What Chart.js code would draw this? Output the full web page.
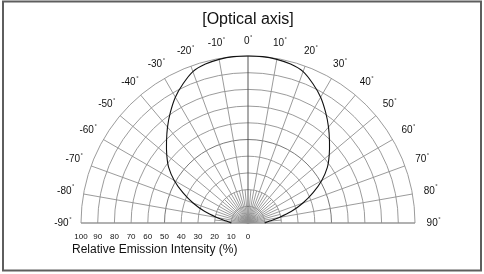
<!DOCTYPE html>
<html>
<head>
<meta charset="utf-8">
<script src="https://cdn.jsdelivr.net/npm/chart.js@4.4.1/dist/chart.umd.min.js"></script>
<style>
  html, body { margin: 0; padding: 0; background: #fff; }
  canvas { display: block; }
</style>
</head>
<body>
<canvas id="chartPolar" width="484" height="274"></canvas>
<script>
// angulos (graus) e intensidade relativa (%)
const angles = [-90, -85, -80, -75, -70, -65, -60, -55, -50, -45, -40, -35, -30, -25, -20, -15, -10, -5,
  0, 5, 10, 15, 20, 25, 30, 35, 40, 45, 50, 55, 60, 65, 70, 75, 80, 85, 90];
const intensity = [10, 13, 19, 27, 35, 43, 51, 58, 63.5, 69, 75, 81, 87, 92, 96.5, 98.5, 99.5, 100,
  100, 100, 99.5, 98.5, 96.5, 92, 87, 81, 75, 69, 63.5, 58, 51, 43, 35, 27, 19, 13, 10];

const angleTicks = [-90, -80, -70, -60, -50, -40, -30, -20, -10, 0, 10, 20, 30, 40, 50, 60, 70, 80, 90];
const radialTicks = [100, 90, 80, 70, 60, 50, 40, 30, 20, 10, 0];
const rings = [10, 20, 30, 40, 50, 60, 70, 80, 90, 100];

const titleText = "[Optical axis]";
const axisText = "Relative Emission Intensity (%)";

// polar -> cartesiano (0 graus = vertical)
const points = angles.map((a, i) => {
  const t = a * Math.PI / 180;
  return { x: intensity[i] * Math.sin(t), y: intensity[i] * Math.cos(t) };
});

const polarGrid = {
  id: "polarGrid",
  beforeDatasetsDraw(chart) {
    const ctx = chart.ctx;
    const sx = chart.scales.x, sy = chart.scales.y;
    const cx = sx.getPixelForValue(0), cy = sy.getPixelForValue(0);
    const R = sx.getPixelForValue(100) - cx;
    ctx.save();

    // moldura
    ctx.strokeStyle = "#5e5e5e";
    ctx.lineWidth = 2;
    ctx.strokeRect(3, 1.5, 478, 269);

    // aneis
    rings.forEach(v => {
      ctx.beginPath();
      ctx.strokeStyle = v === 50 ? "#6a6a6a" : "#909090";
      ctx.lineWidth = 0.9;
      ctx.arc(cx, cy, R * v / 100, Math.PI, 2 * Math.PI);
      ctx.stroke();
    });

    // raios a cada 10 graus
    for (let a = -90; a <= 90; a += 10) {
      const t = a * Math.PI / 180;
      ctx.beginPath();
      ctx.strokeStyle = a === 0 ? "#444" : "#909090";
      ctx.lineWidth = 0.9;
      ctx.moveTo(cx, cy);
      ctx.lineTo(cx + R * Math.sin(t), cy - R * Math.cos(t));
      ctx.stroke();
    }
    // raios intermediarios perto do centro
    for (let a = -85; a <= 85; a += 10) {
      const t = a * Math.PI / 180;
      ctx.beginPath();
      ctx.strokeStyle = "#909090";
      ctx.lineWidth = 0.9;
      ctx.moveTo(cx, cy);
      ctx.lineTo(cx + R * 0.2 * Math.sin(t), cy - R * 0.2 * Math.cos(t));
      ctx.stroke();
    }

    // linha de base
    ctx.beginPath();
    ctx.strokeStyle = "#909090";
    ctx.moveTo(sx.getPixelForValue(-100), cy);
    ctx.lineTo(sx.getPixelForValue(100), cy);
    ctx.stroke();

    // rotulos de angulo
    ctx.fillStyle = "#111";
    ctx.textBaseline = "middle";
    angleTicks.forEach(a => {
      const t = a * Math.PI / 180;
      const rr = 109 + 2 * Math.abs(Math.sin(t));
      const px = sx.getPixelForValue(rr * Math.sin(t));
      const py = sy.getPixelForValue(rr * Math.cos(t));
      const label = String(a);
      ctx.font = "10px 'Liberation Sans', Arial, sans-serif";
      const w = ctx.measureText(label).width;
      ctx.font = "6px 'Liberation Sans', Arial, sans-serif";
      const wd = ctx.measureText("°").width;
      const x0 = px - (w + wd) / 2;
      ctx.font = "10px 'Liberation Sans', Arial, sans-serif";
      ctx.textAlign = "left";
      ctx.fillText(label, x0, py);
      ctx.font = "6px 'Liberation Sans', Arial, sans-serif";
      ctx.fillText("°", x0 + w + 0.5, py - 4);
    });

    // rotulos radiais
    ctx.font = "8px 'Liberation Sans', Arial, sans-serif";
    ctx.textAlign = "center";
    radialTicks.forEach(v => {
      ctx.fillText(String(v), sx.getPixelForValue(-v), cy + 14);
    });

    // titulo e eixo
    ctx.font = "16px 'Liberation Sans', Arial, sans-serif";
    ctx.fillText(titleText, cx, 20);
    ctx.font = "12px 'Liberation Sans', Arial, sans-serif";
    ctx.textAlign = "left";
    ctx.fillText(axisText, 72, 250);
    ctx.restore();
  }
};

new Chart(document.getElementById("chartPolar"), {
  type: "scatter",
  data: {
    datasets: [{
      data: points,
      showLine: true,
      borderColor: "#111",
      borderWidth: 1.1,
      pointRadius: 0,
      tension: 0.3,
      clip: false
    }]
  },
  options: {
    responsive: false,
    animation: false,
    layout: { padding: { left: 81, right: 69, top: 56, bottom: 51 } },
    plugins: { legend: { display: false }, tooltip: { enabled: false } },
    scales: {
      x: { type: "linear", min: -100, max: 100, display: false },
      y: { type: "linear", min: 0, max: 100, display: false }
    }
  },
  plugins: [polarGrid]
});
</script>
</body>
</html>
